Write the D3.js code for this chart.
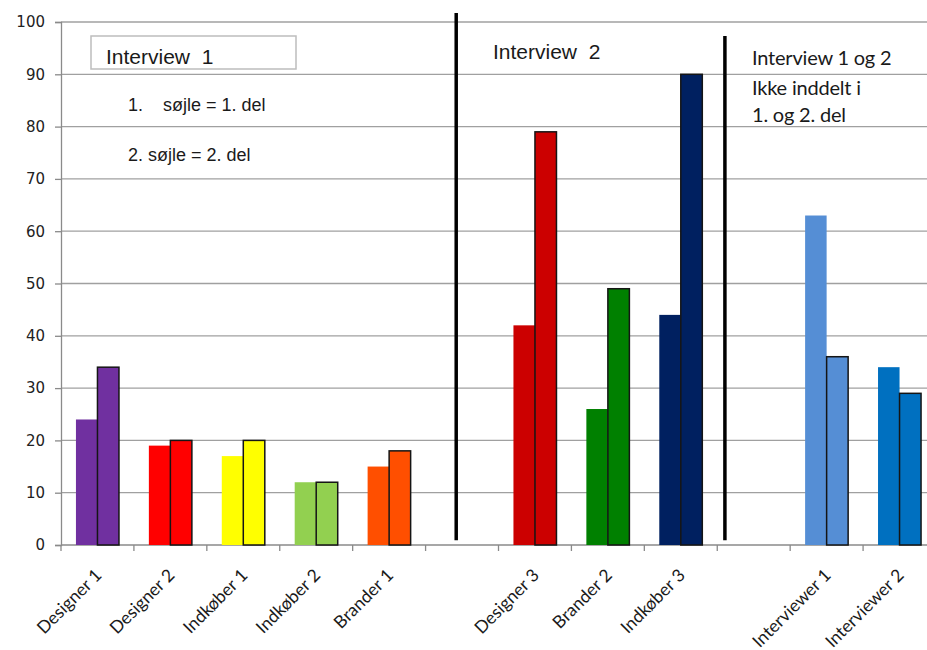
<!DOCTYPE html>
<html><head><meta charset="utf-8">
<script src="https://cdn.jsdelivr.net/npm/d3@7"></script>
<style>body{margin:0;background:#fff}svg{display:block}</style>
</head><body>
<svg id="chart" width="927" height="650"></svg>
<script>
const categories = ["Designer 1","Designer 2","Indkøber 1","Indkøber 2","Brander 1","","Designer 3","Brander 2","Indkøber 3","","Interviewer 1","Interviewer 2"];
const del1 = [24,19,17,12,15,null,42,26,44,null,63,34];
const del2 = [34,20,20,12,18,null,79,49,90,null,36,29];
const colors = ["#7030A0","#FF0000","#FFFF00","#92D050","#FF4F00",null,"#CC0000","#008000","#002060",null,"#558ED5","#0070C0"];
const yTicks = [0,10,20,30,40,50,60,70,80,90,100];

const svg = d3.select("#chart");
const x = d3.scaleBand().domain(d3.range(categories.length)).range([61, 936]).padding(0);
const y = d3.scaleLinear().domain([0,100]).range([545, 22]);
const bw = x.bandwidth();
const barW = bw*0.295;

// gridlines
svg.append("g").selectAll("line").data(yTicks.filter(d=>d>0)).join("line")
  .attr("x1",61).attr("x2",927).attr("y1",d=>y(d)).attr("y2",d=>y(d))
  .attr("stroke","#a0a0a0").attr("stroke-width",1.3);

// y axis
const yAxis = svg.append("g").attr("transform","translate(61,0)")
  .call(d3.axisLeft(y).tickValues(yTicks).tickSize(6).tickPadding(10));
yAxis.select(".domain").attr("stroke","#8a8a8a").attr("stroke-width",1.3);
yAxis.selectAll(".tick line").attr("stroke","#8a8a8a").attr("stroke-width",1.3);
yAxis.selectAll(".tick text").attr("font-family","DejaVu Sans, Verdana, sans-serif").attr("font-size",15).attr("fill","#222");

// x axis baseline and ticks at band edges
svg.append("line").attr("x1",61).attr("x2",927).attr("y1",y(0)).attr("y2",y(0)).attr("stroke","#8a8a8a").attr("stroke-width",1.3);
svg.append("g").selectAll("line").data(d3.range(categories.length)).join("line")
  .attr("x1",d=>x(d)).attr("x2",d=>x(d)).attr("y1",y(0)).attr("y2",y(0)+6)
  .attr("stroke","#8a8a8a").attr("stroke-width",1.3);

// bars
const idx = d3.range(categories.length).filter(i=>del1[i]!=null);
svg.append("g").selectAll("rect").data(idx).join("rect")
  .attr("x",i=>x(i)+bw/2-barW).attr("width",barW)
  .attr("y",i=>y(del1[i])).attr("height",i=>y(0)-y(del1[i]))
  .attr("fill",i=>colors[i]);
svg.append("g").selectAll("rect").data(idx).join("rect")
  .attr("x",i=>x(i)+bw/2).attr("width",barW)
  .attr("y",i=>y(del2[i])).attr("height",i=>y(0)-y(del2[i]))
  .attr("fill",i=>colors[i]).attr("stroke","#151515").attr("stroke-width",1.5);

// x labels
svg.append("g").selectAll("text").data(d3.range(categories.length).filter(i=>categories[i])).join("text")
  .attr("transform",i=>`translate(${x(i)+bw/2+1},${y(0)+27}) rotate(-45)`)
  .attr("text-anchor","end").attr("dy","0.35em")
  .attr("font-family","Lato, sans-serif").attr("font-size",17.5).attr("fill","#1a1a1a")
  .text(i=>categories[i]);

// separator lines
svg.append("line").attr("x1",x(5)+bw*0.42).attr("x2",x(5)+bw*0.42).attr("y1",y(101.7)).attr("y2",y(0.9))
  .attr("stroke","#000").attr("stroke-width",3.5);
svg.append("line").attr("x1",x(9)+bw*0.105).attr("x2",x(9)+bw*0.105).attr("y1",y(97.3)).attr("y2",y(0.9))
  .attr("stroke","#000").attr("stroke-width",3.5);

// annotations
svg.append("rect").attr("x",91).attr("y",36).attr("width",205).attr("height",33)
  .attr("fill","#fff").attr("stroke","#bdbdbd").attr("stroke-width",1.5);
const arial = "Liberation Sans, Arial, sans-serif";
svg.append("text").attr("x",106).attr("y",64).attr("font-family",arial).attr("font-size",21).attr("fill","#1a1a1a").attr("xml:space","preserve").text("Interview  1");
svg.append("text").attr("x",128).attr("y",111).attr("font-family",arial).attr("font-size",18).attr("fill","#1a1a1a").attr("xml:space","preserve").text("1.    søjle = 1. del");
svg.append("text").attr("x",128).attr("y",161).attr("font-family",arial).attr("font-size",18).attr("fill","#1a1a1a").text("2. søjle = 2. del");
svg.append("text").attr("x",493).attr("y",59).attr("font-family",arial).attr("font-size",21).attr("fill","#1a1a1a").attr("xml:space","preserve").text("Interview  2");
const note = ["Interview 1 og 2","Ikke inddelt i","1. og 2. del"];
const noteY = [65,95,122];
svg.append("g").selectAll("text").data(note).join("text")
  .attr("x",752).attr("y",(d,i)=>noteY[i]).attr("font-family","Lato, sans-serif").attr("font-size",20).attr("fill","#1a1a1a")
  .attr("letter-spacing",-0.2).text(d=>d);
</script>
</body></html>
